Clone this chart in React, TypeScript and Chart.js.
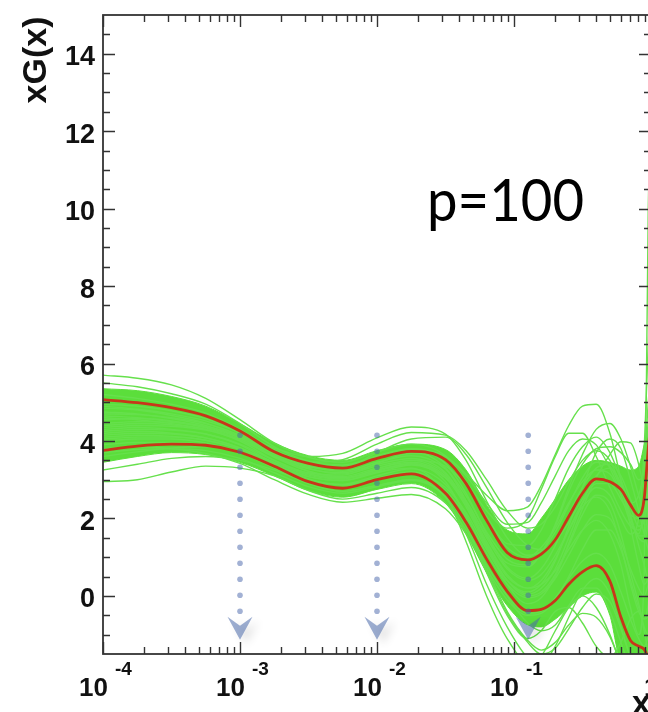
import { useEffect, useRef } from "react";
import { Chart, registerables } from "chart.js";

Chart.register(...registerables);

// x grid (momentum fraction), shared by every curve
const xGrid = [0.0001, 0.000178, 0.000316, 0.000562, 0.001, 0.00178, 0.00316, 0.00562, 0.01, 0.0178, 0.0316, 0.0447, 0.0631, 0.0891, 0.126, 0.158, 0.2, 0.251, 0.316, 0.398, 0.501, 0.603, 0.708, 0.813, 0.891, 0.955, 1];

// one-sigma band edges (red)
const redUpper = [5.07, 4.99, 4.86, 4.65, 4.26, 3.72, 3.42, 3.30, 3.55, 3.73, 3.52, 2.90, 1.95, 1.12, 0.93, 1.08, 1.45, 2.05, 2.65, 3.02, 2.95, 2.75, 2.35, 2.08, 2.5, 3.8, 4.5];
const redLower = [3.76, 3.87, 3.92, 3.89, 3.71, 3.35, 2.95, 2.78, 3.0, 3.15, 2.65, 1.9, 0.95, 0.12, -0.38, -0.35, -0.12, 0.3, 0.62, 0.78, 0.38, -0.55, -1.15, -1.3, -1.38, -1.6, -1.8];

// dense core of the replica cloud
const bandHigh = [5.35, 5.3, 5.15, 4.9, 4.45, 3.95, 3.62, 3.5, 3.75, 3.92, 3.78, 3.25, 2.35, 1.7, 1.6, 2.0, 2.5, 3.0, 3.35, 3.5, 3.45, 3.35, 3.25, 3.35, 3.9, 4.4, 4.8];
const bandLow = [3.45, 3.6, 3.7, 3.65, 3.45, 3.1, 2.72, 2.55, 2.75, 2.9, 2.4, 1.6, 0.6, -0.25, -0.75, -0.8, -0.6, -0.3, 0.0, 0.1, -0.5, -1.7, -1.8, -1.8, -1.8, -1.8, -1.8];

// individual replicas (green)
const rep01 = [5.70, 5.62, 5.45, 5.10, 4.55, 3.95, 3.58, 3.45, 3.72, 3.92, 3.62, 2.95, 2.00, 1.25, 1.00, 1.25, 1.75, 2.40, 2.95, 3.25, 3.15, 2.60, 1.90, 1.60, 2.20, 3.20, 4.00];
const rep02 = [2.95, 3.00, 3.20, 3.35, 3.30, 3.10, 2.72, 2.50, 2.65, 2.80, 2.40, 1.70, 0.80, 0.00, -0.45, -0.40, -0.05, 0.45, 0.90, 1.10, 0.80, 0.10, -0.60, -1.10, -1.30, -1.0, -0.5];
const rep03 = [3.25, 3.40, 3.55, 3.60, 3.50, 3.25, 2.92, 2.70, 2.85, 3.00, 2.70, 2.05, 1.10, 0.30, -0.05, 0.05, 0.45, 1.05, 1.70, 2.10, 2.00, 1.40, 0.70, 0.20, 0.00, 0.3, 0.6];
const rep04 = [4.90, 4.82, 4.70, 4.52, 4.22, 3.82, 3.60, 3.68, 4.08, 4.36, 4.18, 3.50, 2.45, 1.50, 1.05, 1.15, 1.65, 2.35, 3.05, 3.45, 3.35, 2.75, 2.00, 1.50, 1.40, 1.9, 2.5];
const rep05 = [4.55, 4.58, 4.52, 4.36, 4.08, 3.68, 3.45, 3.52, 3.92, 4.22, 4.15, 3.75, 3.00, 2.20, 1.75, 1.85, 2.30, 2.95, 3.50, 3.75, 3.50, 2.80, 2.05, 1.55, 1.55, 2.3, 3.2];
const rep06 = [4.20, 4.25, 4.20, 4.08, 3.82, 3.45, 3.18, 3.12, 3.42, 3.68, 3.58, 3.15, 2.60, 2.20, 2.30, 2.85, 3.65, 4.40, 4.90, 4.95, 4.20, 3.00, 1.80, 0.80, 0.30, 0.5, 1.0];
const rep07 = [4.00, 4.05, 4.05, 3.95, 3.72, 3.38, 3.08, 2.98, 3.18, 3.38, 3.05, 2.45, 1.55, 0.85, 0.75, 1.10, 1.85, 2.80, 3.65, 4.30, 4.45, 4.05, 3.35, 2.60, 2.20, 2.6, 3.2];
const rep08 = [4.65, 4.60, 4.50, 4.34, 4.04, 3.60, 3.28, 3.18, 3.40, 3.55, 3.18, 2.38, 1.30, 0.40, 0.00, 0.10, 0.55, 1.35, 2.25, 3.05, 3.65, 3.98, 3.95, 3.40, 2.70, 2.0, 1.4];
const rep09 = [4.30, 4.35, 4.30, 4.18, 3.90, 3.42, 3.02, 2.86, 3.05, 3.20, 2.72, 1.85, 0.65, -0.45, -1.20, -1.50, -1.35, -0.85, -0.30, 0.05, -0.15, -0.85, -1.60, -2.20, -2.50, -2.5, -2.5];
const rep10 = [3.90, 3.96, 3.96, 3.90, 3.70, 3.30, 2.90, 2.70, 2.85, 3.00, 2.55, 1.60, 0.30, -0.80, -1.60, -1.75, -1.30, -0.55, 0.15, 0.45, 0.05, -0.80, -1.60, -2.2, -2.6, -2.8, -3.0];
const rep11 = [4.60, 4.55, 4.45, 4.30, 4.00, 3.50, 3.15, 3.05, 3.25, 3.40, 2.95, 2.00, 0.75, -0.40, -1.15, -1.40, -1.20, -0.75, -0.45, -0.55, -1.05, -1.75, -2.3, -2.8, -3.0, -3.0, -3.0];
const rep12 = [4.40, 4.45, 4.42, 4.30, 4.02, 3.58, 3.22, 3.08, 3.30, 3.45, 3.10, 2.40, 1.40, 0.55, 0.20, 0.30, 0.65, 1.20, 1.70, 1.95, 1.60, 0.80, -0.30, -1.00, 0.50, 10.0, 12.0];
const rep13 = [4.10, 4.15, 4.12, 4.02, 3.78, 3.36, 3.00, 2.88, 3.10, 3.28, 2.88, 2.10, 1.00, 0.00, -0.70, -0.90, -0.75, -0.25, 0.20, 0.20, -0.40, -1.20, -1.90, -2.4, -2.6, -2.6, -2.6];
const rep14 = [4.75, 4.70, 4.58, 4.40, 4.08, 3.60, 3.22, 3.05, 3.20, 3.30, 2.60, 1.40, 0.00, -1.10, -1.70, -1.55, -0.90, -0.30, 0.00, -0.30, -1.00, -1.80, -2.5, -3.0, -3.0, -3.0, -3.0];
const rep15 = [4.45, 4.50, 4.48, 4.38, 4.12, 3.70, 3.38, 3.30, 3.58, 3.80, 3.55, 2.95, 2.20, 1.75, 2.00, 2.75, 3.60, 4.20, 4.20, 3.60, 2.80, 2.20, 1.80, 1.70, 2.00, 2.8, 3.5];
const rep16 = [5.20, 5.10, 4.95, 4.72, 4.30, 3.78, 3.45, 3.35, 3.62, 3.80, 3.42, 2.65, 1.60, 0.75, 0.45, 0.70, 1.30, 2.10, 2.80, 3.30, 3.40, 3.10, 2.50, 2.00, 2.10, 2.8, 3.5];
const rep17 = [3.60, 3.72, 3.82, 3.85, 3.70, 3.35, 2.98, 2.80, 3.00, 3.15, 2.80, 2.15, 1.20, 0.40, 0.05, 0.20, 0.70, 1.50, 2.40, 3.10, 3.30, 2.90, 2.10, 1.30, 0.80, 0.3, -0.2];
const rep18 = [5.50, 5.40, 5.22, 4.95, 4.45, 3.85, 3.48, 3.38, 3.60, 3.72, 3.30, 2.45, 1.30, 0.30, -0.20, -0.05, 0.50, 1.30, 2.10, 2.60, 2.40, 1.60, 0.60, -0.20, -0.80, -1.0, -1.0];
const rep19 = [4.95, 4.90, 4.78, 4.58, 4.20, 3.70, 3.35, 3.22, 3.45, 3.62, 3.28, 2.58, 1.65, 0.95, 0.80, 1.10, 1.80, 2.70, 3.40, 3.80, 3.85, 3.70, 3.40, 3.00, 3.30, 4.5, 5.5];
const rep20 = [3.80, 3.85, 3.80, 3.68, 3.42, 3.00, 2.62, 2.42, 2.52, 2.62, 2.25, 1.60, 0.70, -0.10, -0.50, -0.45, -0.10, 0.50, 1.20, 1.70, 1.70, 1.20, 0.40, -0.30, -0.60, -0.5, 0.0];
const rep21 = [4.25, 4.30, 4.28, 4.18, 3.92, 3.50, 3.16, 3.02, 3.25, 3.42, 3.05, 2.30, 1.25, 0.40, 0.10, 0.30, 0.90, 1.80, 2.80, 3.70, 4.05, 3.80, 3.00, 2.20, 1.60, 1.2, 1.0];
const rep22 = [4.35, 4.40, 4.38, 4.28, 4.02, 3.62, 3.32, 3.30, 3.70, 4.05, 4.10, 3.65, 2.80, 1.90, 1.30, 1.20, 1.40, 1.90, 2.50, 2.90, 2.90, 2.50, 2.10, 2.00, 2.50, 3.5, 4.5];
const rep23 = [4.70, 4.68, 4.60, 4.45, 4.15, 3.68, 3.30, 3.15, 3.35, 3.50, 3.15, 2.45, 1.50, 0.70, 0.40, 0.55, 1.05, 1.70, 2.30, 2.55, 2.20, 1.30, 0.30, -0.40, -0.60, -0.2, 0.5];
const rep24 = [4.15, 4.20, 4.18, 4.08, 3.82, 3.40, 3.08, 2.98, 3.22, 3.40, 3.05, 2.35, 1.35, 0.50, 0.20, 0.40, 0.95, 1.70, 2.40, 2.80, 2.60, 2.00, 1.60, 2.00, 3.80, 6.5, 8.0];
const rep25 = [3.70, 3.78, 3.80, 3.75, 3.55, 3.18, 2.82, 2.65, 2.82, 2.98, 2.58, 1.80, 0.60, -0.50, -1.10, -0.90, -0.40, -0.30, -0.70, -1.30, -1.60, -1.20, -0.60, -0.40, -0.90, -1.5, -2.0];
const rep26 = [4.85, 4.80, 4.66, 4.46, 4.12, 3.66, 3.34, 3.26, 3.55, 3.78, 3.60, 3.10, 2.40, 1.85, 1.90, 2.40, 3.10, 3.75, 4.05, 3.90, 3.30, 2.70, 2.40, 2.60, 3.40, 5.0, 6.0];
const rep27 = [4.05, 4.10, 4.10, 4.02, 3.80, 3.44, 3.12, 3.02, 3.28, 3.50, 3.35, 2.85, 2.05, 1.35, 1.30, 1.70, 2.50, 3.30, 3.85, 4.10, 3.70, 3.00, 2.30, 1.80, 1.90, 2.6, 3.4];
const replicas = [rep01, rep02, rep03, rep04, rep05, rep06, rep07, rep08, rep09, rep10, rep11, rep12, rep13, rep14, rep15, rep16, rep17, rep18, rep19, rep20, rep21, rep22, rep23, rep24, rep25, rep26, rep27];

// axes
const yMin = -1.5;
const yMax = 15;
const xMin = 0.0001;
const xMax = 1;
const yTickValues = [0, 2, 4, 6, 8, 10, 12, 14];
const yTickLabels = ["0", "2", "4", "6", "8", "10", "12", "14"];
const xTickValues = [0.0001, 0.001, 0.01, 0.1, 1];
const xTickBases = ["10", "10", "10", "10", "1"];
const xTickExponents = ["-4", "-3", "-2", "-1", ""];

// kinematic-region arrows
const arrowX = [0.001, 0.01, 0.127];
const arrowTopY = 4.15;
const arrowDotEndY = -0.41;
const arrowHeadTopY = -0.54;
const arrowTipY = -1.13;

const annotationText = "p=100";
const yTitle = "xG(x)";
const xTitle = "x";

const GREEN = "#66E04C";
const GREEN_FILL = "#5BDE3B";
const RED = "#C8361A";
const FRAME = "#333333";
const LABEL_FONT = '"Liberation Sans", Arial, Helvetica, sans-serif';

const pts = (arr: number[]) => xGrid.map((x, i) => ({ x, y: arr[i] }));

const decorPlugin = {
  id: "decor",
  afterDatasetsDraw(chart: any) {
    const { ctx, scales } = chart;
    const xs = scales.x;
    const ys = scales.y;
    ctx.save();
    arrowX.forEach((xv) => {
      const cx = xs.getPixelForValue(xv);
      const top = ys.getPixelForValue(arrowTopY);
      const end = ys.getPixelForValue(arrowDotEndY);
      ctx.fillStyle = "rgba(70,100,170,0.5)";
      for (let y = top; y <= end + 0.5; y += 16) {
        ctx.beginPath();
        ctx.arc(cx, y, 2.8, 0, Math.PI * 2);
        ctx.fill();
      }
      const ht = ys.getPixelForValue(arrowHeadTopY);
      const tip = ys.getPixelForValue(arrowTipY);
      ctx.save();
      ctx.shadowColor = "rgba(0,0,0,0.22)";
      ctx.shadowBlur = 10;
      ctx.shadowOffsetX = 6;
      ctx.shadowOffsetY = 4;
      ctx.fillStyle = "rgba(75,105,170,0.55)";
      ctx.beginPath();
      ctx.moveTo(cx - 12.5, ht);
      ctx.lineTo(cx, ht + 9);
      ctx.lineTo(cx + 12.5, ht);
      ctx.lineTo(cx, tip);
      ctx.closePath();
      ctx.fill();
      ctx.restore();
    });
    ctx.restore();
  },
  afterDraw(chart: any) {
    const { ctx, chartArea: a, scales } = chart;
    const xs = scales.x;
    const ys = scales.y;
    ctx.save();
    ctx.strokeStyle = FRAME;
    ctx.lineWidth = 1.8;
    ctx.strokeRect(a.left, a.top, a.right - a.left, a.bottom - a.top);
    ctx.lineWidth = 1.4;
    ctx.beginPath();
    for (let v = -1; v <= 14.51; v += 0.5) {
      const py = Math.round(ys.getPixelForValue(v)) + 0.5;
      const major = Math.abs(v / 2 - Math.round(v / 2)) < 1e-6;
      const len = major ? 12 : 7;
      ctx.moveTo(a.left, py);
      ctx.lineTo(a.left + len, py);
      ctx.moveTo(a.right, py);
      ctx.lineTo(a.right - len, py);
    }
    for (let d = -4; d <= -1; d++) {
      for (let k = 1; k <= 9; k++) {
        const v = k * Math.pow(10, d);
        const px = Math.round(xs.getPixelForValue(v)) + 0.5;
        const len = k === 1 ? 12 : 7;
        ctx.moveTo(px, a.bottom);
        ctx.lineTo(px, a.bottom - len);
        ctx.moveTo(px, a.top);
        ctx.lineTo(px, a.top + len);
      }
    }
    ctx.stroke();

    ctx.fillStyle = "#111";
    ctx.textAlign = "right";
    ctx.textBaseline = "alphabetic";
    ctx.font = `bold 27px ${LABEL_FONT}`;
    yTickValues.forEach((v, i) => {
      const py = ys.getPixelForValue(v);
      ctx.fillText(yTickLabels[i], a.left - 8, py + 11.5);
    });
    xTickValues.forEach((v, i) => {
      const px = xs.getPixelForValue(v);
      if (xTickExponents[i]) {
        ctx.textAlign = "left";
        ctx.font = `bold 26px ${LABEL_FONT}`;
        ctx.fillText(xTickBases[i], px - 24, a.bottom + 42);
        ctx.font = `bold 19px ${LABEL_FONT}`;
        ctx.fillText(xTickExponents[i], px + 12, a.bottom + 21);
      } else {
        ctx.textAlign = "left";
        ctx.font = `bold 26px ${LABEL_FONT}`;
        ctx.fillText(xTickBases[i], px - 7, a.bottom + 42);
      }
    });
    ctx.font = `bold 33px ${LABEL_FONT}`;
    ctx.textAlign = "left";
    ctx.fillText(xTitle, 632, a.bottom + 60);
    ctx.save();
    ctx.translate(46, 60);
    ctx.rotate(-Math.PI / 2);
    ctx.textAlign = "center";
    ctx.font = `bold 34px ${LABEL_FONT}`;
    ctx.fillText(yTitle, 0, 0);
    ctx.restore();
    ctx.fillStyle = "#000";
    ctx.textAlign = "left";
    ctx.font = '58px Lato, "Open Sans", sans-serif';
    ctx.fillText(annotationText, 427, 221, 157);
    ctx.restore();
  },
};

export default function App() {
  const ref = useRef<HTMLCanvasElement | null>(null);
  useEffect(() => {
    if (!ref.current) return;
    const datasets: any[] = [
      { data: pts(redUpper), borderColor: RED, borderWidth: 2.8 },
      { data: pts(redLower), borderColor: RED, borderWidth: 2.8 },
      ...replicas.map((r) => ({ data: pts(r), borderColor: GREEN, borderWidth: 1.4 })),
      { data: pts(bandLow), borderColor: GREEN_FILL, borderWidth: 1, fill: false },
      { data: pts(bandHigh), borderColor: GREEN_FILL, borderWidth: 1, backgroundColor: GREEN_FILL, fill: "-1" },
    ].map((d) => ({ pointRadius: 0, cubicInterpolationMode: "monotone", ...d }));
    const chart = new Chart(ref.current, {
      type: "line",
      data: { datasets },
      options: {
        animation: false,
        responsive: false,
        devicePixelRatio: 1,
        layout: { padding: { left: 103, right: 29, top: 15, bottom: 58 } },
        plugins: { legend: { display: false }, tooltip: { enabled: false } },
        events: [],
        scales: {
          x: { type: "logarithmic", min: xMin, max: xMax, display: false },
          y: { type: "linear", min: yMin, max: yMax, display: false },
        },
      },
      plugins: [decorPlugin],
    });
    return () => chart.destroy();
  }, []);
  return (
    <div style={{ position: "fixed", left: 0, top: 0, width: 648, height: 712, overflow: "hidden", background: "#fff" }}>
      <canvas ref={ref} width={680} height={712} style={{ display: "block" }} />
    </div>
  );
}
